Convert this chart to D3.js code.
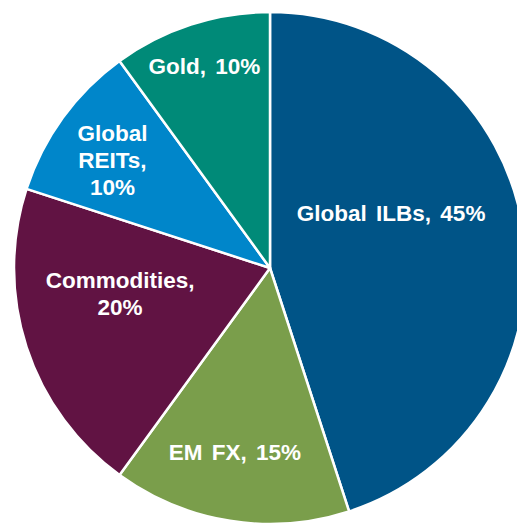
<!DOCTYPE html>
<html>
<head>
<meta charset="utf-8">
<script src="https://d3js.org/d3.v7.min.js"></script>
<style>
  html, body { margin: 0; padding: 0; background: #fff; }
  text { font-family: "Liberation Sans", Arial, sans-serif; font-weight: bold; font-size: 22.5px; fill: #fff; word-spacing: 3px; }
</style>
</head>
<body>
<svg width="517" height="524"></svg>
<script>
// data
var assets = ["Global ILBs", "EM FX", "Commodities", "Global REITs", "Gold"];
var weights = [45, 15, 20, 10, 10];
var colors = ["#005487", "#7a9e4b", "#611343", "#0086ca", "#008a78"];
// label lines per slice
var labelLines = [["Global ILBs, 45%"], ["EM FX, 15%"], ["Commodities,", "20%"], ["Global", "REITs,", "10%"], ["Gold, 10%"]];

// layout: label angle (deg, clockwise from top) and radius
var labelAngle = [65.6, 190.8, 260.5, 304.4, 342];
var labelRadius = [133, 187, 152, 191, 212];

var cx = 270, cy = 268, radius = 256, lineH = 27;

var svg = d3.select("svg");
var g = svg.append("g").attr("transform", "translate(" + cx + "," + cy + ")");

var data = assets.map(function(a, i) { return { name: a, value: weights[i], i: i }; });

var pie = d3.pie().sort(null).value(function(d) { return d.value; });
var arc = d3.arc().innerRadius(0).outerRadius(radius);

var slices = g.selectAll(".arc").data(pie(data)).enter().append("g").attr("class", "arc");

slices.append("path")
  .attr("d", arc)
  .attr("fill", function(d) { return colors[d.data.i]; })
  .attr("stroke", "#fff")
  .attr("stroke-width", 2.5)
  .attr("stroke-linejoin", "round");

slices.each(function(d) {
  var i = d.data.i;
  var a = labelAngle[i] * Math.PI / 180;
  var pos = d3.arc().innerRadius(labelRadius[i]).outerRadius(labelRadius[i]).centroid({ startAngle: a, endAngle: a });
  var lines = labelLines[i];
  var t = d3.select(this).append("text")
    .attr("text-anchor", "middle")
    .attr("transform", "translate(" + pos + ")");
  lines.forEach(function(l, k) {
    t.append("tspan")
      .attr("x", 0)
      .attr("y", (k - (lines.length - 1) / 2) * lineH)
      .attr("dy", "0.36em")
      .text(l);
  });
});
</script>
</body>
</html>
